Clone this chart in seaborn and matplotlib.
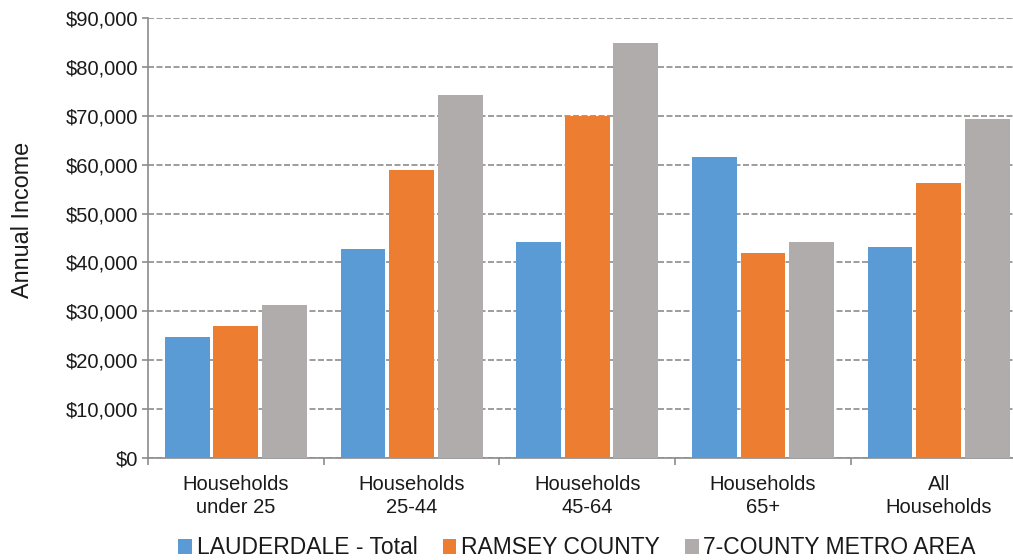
import matplotlib
matplotlib.use("Agg")
import matplotlib.pyplot as plt
import matplotlib.ticker as mticker
import seaborn as sns
import pandas as pd

# Median annual household income by age of householder
categories = ["Households\nunder 25", "Households\n25-44", "Households\n45-64",
              "Households\n65+", "All\nHouseholds"]
series_names = ["LAUDERDALE - Total", "RAMSEY COUNTY", "7-COUNTY METRO AREA"]
lauderdale = [24700, 42700, 44100, 61500, 43100]
ramsey = [27100, 59000, 70000, 42000, 56200]
metro = [31300, 74200, 84800, 44100, 69300]
colors = ["#5B9BD5", "#ED7D31", "#B0ACAB"]
y_ticks = list(range(0, 90001, 10000))

df = pd.DataFrame({
    "category": categories * 3,
    "series": [s for s in series_names for _ in categories],
    "income": lauderdale + ramsey + metro,
})

sns.set_theme(style="white")
plt.rcParams["font.family"] = ["Liberation Sans", "DejaVu Sans"]
text_color = "#1A1A1A"
axis_color = "#8C8C8C"

fig = plt.figure(figsize=(10.13, 5.60), dpi=100)
ax = fig.add_axes([148 / 1013, 102 / 560, 878.5 / 1013, 440 / 560])

sns.barplot(data=df, x="category", y="income", hue="series", order=categories,
            hue_order=series_names, palette=colors, width=0.83, gap=0.08,
            saturation=1, linewidth=0, ax=ax, legend=True, zorder=3)

ax.set_ylim(0, 90000)
ax.set_xlim(-0.5, len(categories) - 0.5)
ax.set_yticks(y_ticks)
ax.yaxis.set_major_formatter(mticker.FuncFormatter(lambda v, p: f"${v:,.0f}"))

# dashed horizontal gridlines behind the bars
ax.set_axisbelow(True)
ax.yaxis.grid(True, color=axis_color, linewidth=1.2, linestyle=(0, (3.6, 1.5)))
ax.xaxis.grid(False)

for side in ("top", "right"):
    ax.spines[side].set_visible(False)
for side in ("left", "bottom"):
    ax.spines[side].set_color(axis_color)
    ax.spines[side].set_linewidth(1.2)

ax.tick_params(axis="y", which="major", left=True, length=4, width=1.2,
               color=axis_color, labelsize=14.5, labelcolor=text_color, pad=3)
ax.tick_params(axis="x", which="major", bottom=False, labelsize=14.5,
               labelcolor=text_color, pad=6)
ax.set_xticks([i - 0.5 for i in range(len(categories) + 1)], minor=True)
ax.tick_params(axis="x", which="minor", bottom=True, length=5, width=1.2,
               color=axis_color)
for lbl in ax.get_xticklabels():
    lbl.set_linespacing(1.3)

ax.set_xlabel("")
ax.set_ylabel("Annual Income", fontsize=16.8, color=text_color, va="center")
ax.yaxis.set_label_coords(-0.1423, 0.541)

handles, labels = ax.get_legend_handles_labels()
ax.get_legend().remove()
fig.legend(handles, labels, loc="center", bbox_to_anchor=(577 / 1013, 1 - 548 / 560),
           ncol=3, frameon=False, fontsize=16.5, handlelength=0.6, handleheight=0.6,
           handletextpad=0.2, columnspacing=1.1, labelcolor=text_color)

fig.savefig("out.png", dpi=100)
